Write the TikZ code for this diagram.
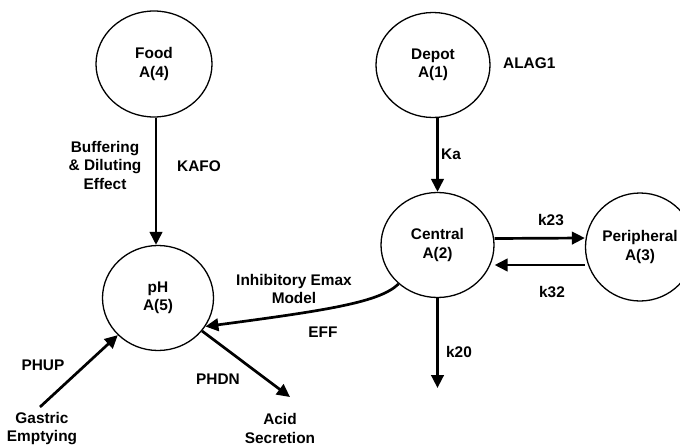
\documentclass[tikz,border=0pt]{standalone}
\usepackage{fontspec}
\setmainfont{Liberation Sans}
\usetikzlibrary{shapes.geometric,arrows.meta}
\tikzset{
  comp/.style={draw, line width=1.3pt, ellipse, inner sep=0pt, align=center},
  arr/.style={line width=2.7pt, -{Triangle[length=13pt,width=12.5pt]}},
  lbl/.style={align=center, inner sep=0pt}
}
\begin{document}
\begin{tikzpicture}[x=1pt,y=-1pt,font=\fontsize{15.4}{18.5}\selectfont\bfseries]
\clip (0,0) rectangle (680,447);
\fill[white] (0,0) rectangle (680,447);
% compartments
\node[comp, minimum width=116pt, minimum height=106pt] (food) at (154,64) {Food\\A(4)};
\node[comp, minimum width=114pt, minimum height=105pt] (depot) at (433,65) {Depot\\A(1)};
\node[comp, minimum width=113pt, minimum height=105pt] (central) at (437.5,245) {Central\\A(2)};
\node[comp, minimum width=109pt, minimum height=108pt] (periph) at (640,247) {Peripheral\\A(3)};
\node[comp, minimum width=111pt, minimum height=105pt] (ph) at (158,298) {pH\\A(5)};
% free ends
\coordinate (gs) at (40,407);
\coordinate (as) at (290,397);
\coordinate (k20end) at (437.5,388);
% connectors
\draw[arr] (food.south -| 156,0) -- (ph.north -| 156,0);
\draw[arr] (depot.south -| central.north) -- (central.north);
\draw[arr] ([yshift=6.5pt]central.east) -- ([yshift=9pt]periph.west);
\draw[arr] ([yshift=-18pt]periph.west) -- ([yshift=-20pt]central.east);
\draw[arr] (central.south) -- (k20end);
\draw[arr] (central.225) .. controls (380,302) and (330,310) .. (ph.-31);
\draw[arr] (gs) -- (ph);
\draw[arr] (ph) -- (as);
% labels
\node[lbl] (buf) at (105,165) {Buffering\\\& Diluting\\Effect};
\node[lbl] (kafo) at (199,166) {KAFO};
\node[lbl, anchor=west] (alag) at (503,63) {ALAG1};
\node[lbl, anchor=west] (ka) at (441,154) {Ka};
\node[lbl] (k23) at (551,220) {k23};
\node[lbl] (k32) at (552,292) {k32};
\node[lbl] (k20) at (459,352) {k20};
\node[lbl] (emax) at (294,289) {Inhibitory Emax\\Model};
\node[lbl] (eff) at (323,332) {EFF};
\node[lbl] (phup) at (43,365) {PHUP};
\node[lbl] (phdn) at (218,379) {PHDN};
\node[lbl] (gastric) at (42,428.5) {Gastric\\Emptying};
\node[lbl] (acid) at (280,428.5) {Acid\\Secretion};
\end{tikzpicture}
\end{document}
